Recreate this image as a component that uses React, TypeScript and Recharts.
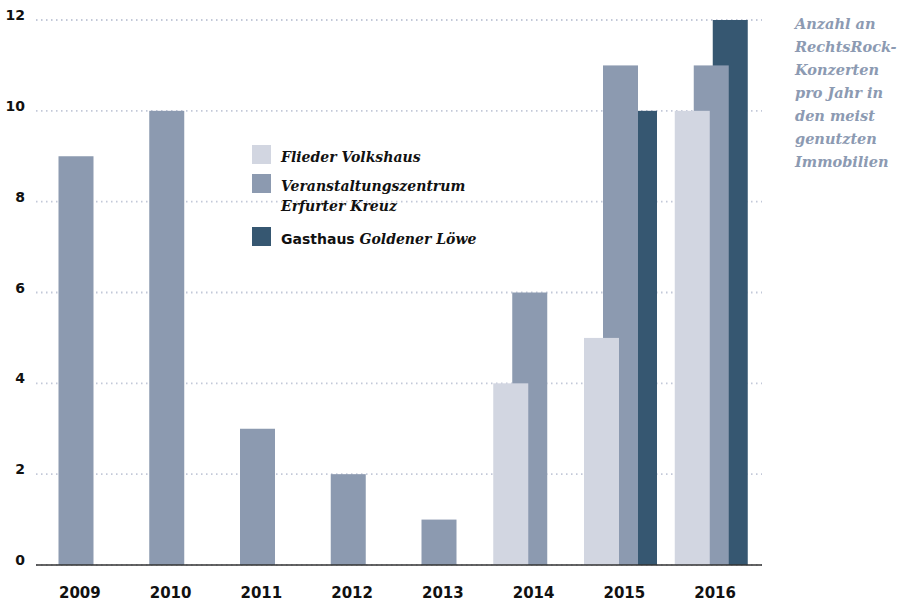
import React from 'react';
import { BarChart, Bar, XAxis, YAxis, CartesianGrid } from 'recharts';

const years = ['2009', '2010', '2011', '2012', '2013', '2014', '2015', '2016'];
const flieder = [null, null, null, null, null, 4, 5, 10];
const erfurt = [9, 10, 3, 2, 1, 6, 11, 11];
const goldener = [null, null, null, null, null, null, 10, 12];
const yTicks = [0, 2, 4, 6, 8, 10, 12];

const LIGHT = '#d2d6e1';
const MID = '#8c9ab0';
const DARK = '#365771';
const NOTE = '#8c9ab2';

const data = years.map((y, i) => ({
  year: y,
  flieder: flieder[i],
  erfurt: erfurt[i],
  goldener: goldener[i],
}));

const serif = '"DejaVu Serif", serif';
const sans = '"DejaVu Sans", sans-serif';

// bars overlap, each shifted sideways from its band slot
const shifted = (dx: number, fill: string) => (props: any) => {
  const { x, y, width, height } = props;
  if (!height || height <= 0) return <g />;
  return <rect x={x + dx} y={y} width={width} height={height} fill={fill} />;
};

const XTick = (props: any) => (
  <text x={props.x - 1.5} y={props.y + 33} textAnchor="middle" fontFamily={sans} fontWeight="bold" fontSize={15} fill="#111">
    {props.payload.value}
  </text>
);

const YTick = (props: any) => (
  <text x={props.x - 11} y={props.y} textAnchor="end" fontFamily={sans} fontWeight="bold" fontSize={14} fill="#111">
    {props.payload.value}
  </text>
);

const legendItems = [
  { top: 145, color: LIGHT, lines: [<i key="a">Flieder Volkshaus</i>] },
  { top: 174, color: MID, lines: [<i key="a">Veranstaltungszentrum</i>, <i key="b">Erfurter Kreuz</i>] },
  {
    top: 227,
    color: DARK,
    lines: [
      <span key="a">
        <span style={{ fontFamily: sans }}>Gasthaus</span> <i>Goldener Löwe</i>
      </span>,
    ],
  },
];

const noteLines = ['Anzahl an', 'RechtsRock-', 'Konzerten', 'pro Jahr in', 'den meist', 'genutzten', 'Immobilien'];

export default function App() {
  return (
    <div style={{ position: 'absolute', left: 0, top: 0, width: 900, height: 603, background: '#fff' }}>
      <BarChart width={900} height={603} data={data} margin={{ top: 20, right: 138, bottom: 0, left: 0 }} barSize={35}>
        <CartesianGrid vertical={false} stroke="#c2c8d8" strokeWidth={1.8} strokeDasharray="1.5 3.5" />
        <XAxis dataKey="year" height={38} tickLine={false} tickSize={0} tickMargin={0} axisLine={{ stroke: '#333', strokeWidth: 1.5 }} tick={<XTick />} />
        <XAxis dataKey="year" xAxisId="l" hide />
        <XAxis dataKey="year" xAxisId="d" hide />
        <YAxis domain={[0, 12]} ticks={yTicks} width={36} axisLine={false} tickLine={false} tickSize={0} tickMargin={0} tick={<YTick />} />
        <Bar dataKey="goldener" xAxisId="d" fill={DARK} shape={shifted(13.5, DARK)} isAnimationActive={false} />
        <Bar dataKey="erfurt" fill={MID} shape={shifted(-5.5, MID)} isAnimationActive={false} />
        <Bar dataKey="flieder" xAxisId="l" fill={LIGHT} shape={shifted(-24.5, LIGHT)} isAnimationActive={false} />
      </BarChart>
      {legendItems.map((it, i) => (
        <div key={i} style={{ position: 'absolute', left: 252, top: it.top, display: 'flex', alignItems: 'flex-start' }}>
          <div style={{ width: 19, height: 19, background: it.color, flex: 'none' }} />
          <div style={{ marginLeft: 10, marginTop: 2, fontFamily: serif, fontWeight: 'bold', fontSize: 14, lineHeight: '20px', color: '#111', whiteSpace: 'nowrap' }}>
            {it.lines.map((l, j) => (
              <div key={j}>{l}</div>
            ))}
          </div>
        </div>
      ))}
      <div style={{ position: 'absolute', left: 795, top: 12, fontFamily: serif, fontStyle: 'italic', fontWeight: 'bold', fontSize: 14.5, lineHeight: '23px', color: NOTE, whiteSpace: 'nowrap' }}>
        {noteLines.map((l, i) => (
          <div key={i}>{l}</div>
        ))}
      </div>
    </div>
  );
}
